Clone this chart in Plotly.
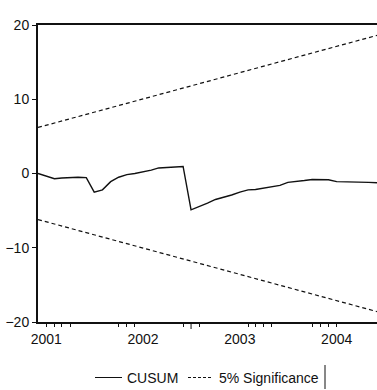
import pandas as pd
import plotly.graph_objects as go

# Monthly observations, 2000m12 .. 2004m6
dates = pd.date_range("2000-12-01", periods=43, freq="MS")
cusum = [0.0, -0.4, -0.7, -0.6, -0.5, -0.5, -0.55, -2.5, -2.2, -1.1,
         -0.5, -0.15, 0.0, 0.2, 0.45, 0.75, 0.85, 0.9, 0.95, -4.9,
         -4.5, -4.0, -3.5, -3.2, -2.9, -2.5, -2.2, -2.15, -1.95, -1.8,
         -1.6, -1.2, -1.1, -0.95, -0.8, -0.8, -0.85, -1.1, -1.1, -1.12,
         -1.15, -1.2, -1.25]
bound_dates = [dates[0], dates[-1]]
upper_bound = [6.2, 18.6]
lower_bound = [-6.2, -18.6]

year_ticks = ["2001-01-01", "2002-01-01", "2003-01-01", "2004-01-01"]
year_labels = ["2001", "2002", "2003", "2004"]
minor_ticks = [dates[i] for i in [1, 2, 3, 4, 10, 11, 12, 18, 20, 26, 27, 28, 29, 34, 35, 36, 37]]
long_tick = dates[19]
y_ticks = [-20, -10, 0, 10, 20]

FONT = "Arial, Liberation Sans, sans-serif"
W, H = 377, 390
L, R, T, B = 38, 0, 25, 68
pw, ph = W - L - R, H - T - B

def px(x):
    return (x - L) / pw

def py(y):
    return (H - B - y) / ph

fig = go.Figure()
fig.add_trace(go.Scatter(x=dates, y=cusum, mode="lines", name="CUSUM",
                         line=dict(color="#111111", width=1.4)))
fig.add_trace(go.Scatter(x=bound_dates, y=upper_bound, mode="lines", name="5% Significance",
                         line=dict(color="#111111", width=1.2, dash="4px,3px")))
fig.add_trace(go.Scatter(x=bound_dates, y=lower_bound, mode="lines", showlegend=False,
                         line=dict(color="#111111", width=1.2, dash="4px,3px")))

shapes = [
    # long tick
    dict(type="line", xref="x", yref="paper", x0=long_tick, x1=long_tick, y0=0, y1=py(329),
         line=dict(color="#111111", width=1)),
    # legend samples
    dict(type="line", xref="paper", yref="paper", x0=px(95), x1=px(122), y0=py(377.5), y1=py(377.5),
         line=dict(color="#111111", width=1)),
    dict(type="line", xref="paper", yref="paper", x0=px(188), x1=px(213), y0=py(377.5), y1=py(377.5),
         line=dict(color="#111111", width=1, dash="3px,2px")),
    dict(type="line", xref="paper", yref="paper", x0=px(325), x1=px(325), y0=py(365), y1=py(389),
         line=dict(color="#111111", width=1)),
]
annotations = [
    dict(text="CUSUM", xref="paper", yref="paper", x=px(125), y=py(377.5), xanchor="left",
         yanchor="middle", showarrow=False, font=dict(family=FONT, size=14, color="#111111")),
    dict(text="5% Significance", xref="paper", yref="paper", x=px(217), y=py(377.5), xanchor="left",
         yanchor="middle", showarrow=False, font=dict(family=FONT, size=14, color="#111111")),
]

fig.update_layout(
    width=W, height=H, margin=dict(l=L, r=R, t=T, b=B),
    paper_bgcolor="white", plot_bgcolor="white", showlegend=False,
    shapes=shapes, annotations=annotations,
    font=dict(family=FONT, size=14, color="#111111"),
)
fig.update_xaxes(
    range=[dates[0], dates[-1]], showgrid=False, zeroline=False,
    showline=True, linecolor="#111111", linewidth=2, mirror=True,
    tickmode="array", tickvals=year_ticks, ticktext=year_labels, ticks="",
    ticklabelstandoff=3, tickfont=dict(family=FONT, size=14, color="#111111"),
    minor=dict(tickmode="array", tickvals=minor_ticks, ticks="outside", ticklen=3,
               tickwidth=1, tickcolor="#111111", showgrid=False),
)
fig.update_yaxes(
    range=[-20, 20], showgrid=False, zeroline=False,
    showline=True, linecolor="#111111", linewidth=2,
    tickmode="array", tickvals=y_ticks, ticks="outside", ticklen=4, tickcolor="#111111",
    tickfont=dict(family=FONT, size=14, color="#111111"),
)

fig.write_html("out.html")
